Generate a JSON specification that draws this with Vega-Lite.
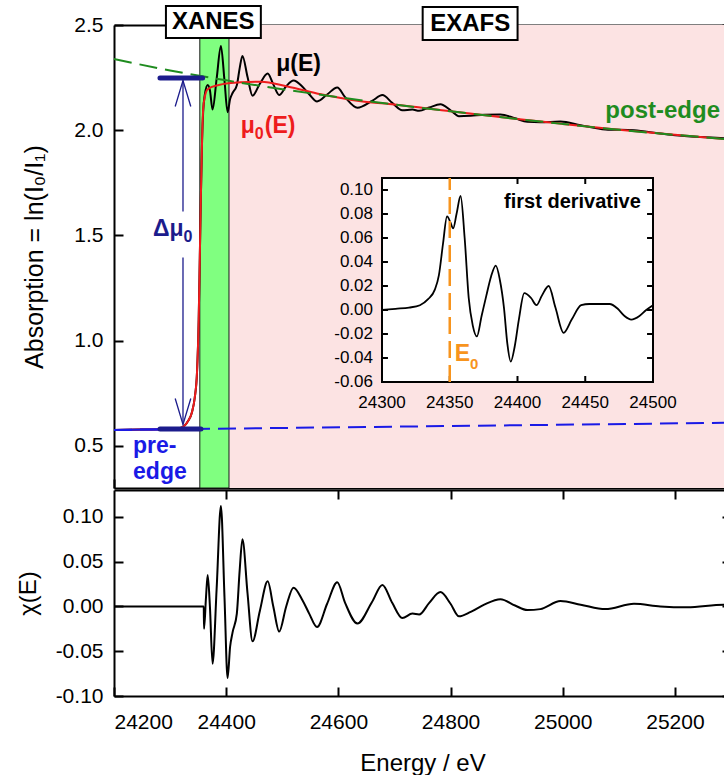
{
 "$schema": "https://vega.github.io/schema/vega-lite/v6.json",
 "padding": {"left": 16, "top": 5, "right": 0, "bottom": 0},
 "background": "white",
 "config": {
  "font": "Liberation Sans",
  "view": {"stroke": null},
  "locale": {"number": {"decimal": ".", "thousands": ",", "grouping": [3], "currency": ["$", ""], "minus": "-"}},
  "axis": {"grid": false, "domainColor": "black", "domainWidth": 2, "tickColor": "black", "tickWidth": 2, "tickSize": -9, "labelFont": "Liberation Sans", "labelFontSize": 21, "labelColor": "black", "titleFont": "Liberation Sans", "titleFontSize": 24, "titleFontWeight": "normal", "titleColor": "black", "zindex": 1, "labelPadding": 20}
 },
 "datasets": {
  "mu": [{"E":24200,"v":0.576},{"E":24250,"v":0.578},{"E":24300,"v":0.580},{"E":24320,"v":0.587},{"E":24332,"v":0.618},{"E":24339,"v":0.66},{"E":24344,"v":0.73},{"E":24348,"v":0.85},{"E":24351,"v":1.1},{"E":24353,"v":1.4},{"E":24355,"v":1.7},{"E":24357,"v":1.95},{"E":24359,"v":2.09},{"E":24362,"v":2.17},{"E":24367,"v":2.215},{"E":24371,"v":2.19},{"E":24375.7,"v":2.098},{"E":24383,"v":2.245},{"E":24390.6,"v":2.4},{"E":24397,"v":2.235},{"E":24402.5,"v":2.086},{"E":24407,"v":2.148},{"E":24411.4,"v":2.177},{"E":24419,"v":2.214},{"E":24424,"v":2.294},{"E":24429,"v":2.353},{"E":24438,"v":2.254},{"E":24447,"v":2.164},{"E":24460,"v":2.221},{"E":24474,"v":2.269},{"E":24484,"v":2.218},{"E":24494.5,"v":2.167},{"E":24507,"v":2.209},{"E":24520,"v":2.236},{"E":24536,"v":2.207},{"E":24548,"v":2.171},{"E":24562,"v":2.137},{"E":24580,"v":2.17},{"E":24598,"v":2.203},{"E":24612,"v":2.157},{"E":24634,"v":2.107},{"E":24660,"v":2.139},{"E":24678.5,"v":2.167},{"E":24696,"v":2.13},{"E":24714,"v":2.095},{"E":24732,"v":2.098},{"E":24744,"v":2.092},{"E":24762,"v":2.108},{"E":24782,"v":2.123},{"E":24800,"v":2.095},{"E":24815,"v":2.067},{"E":24836,"v":2.069},{"E":24860,"v":2.074},{"E":24889,"v":2.075},{"E":24915,"v":2.057},{"E":24937,"v":2.04},{"E":24960,"v":2.038},{"E":24996,"v":2.041},{"E":25032,"v":2.024},{"E":25076,"v":2.004},{"E":25127,"v":2.0},{"E":25174,"v":1.984},{"E":25222,"v":1.971},{"E":25287,"v":1.962},{"E":25300,"v":1.959}],
  "mu0": [{"E":24200,"v":0.576},{"E":24250,"v":0.578},{"E":24300,"v":0.580},{"E":24320,"v":0.587},{"E":24332,"v":0.618},{"E":24339,"v":0.66},{"E":24344,"v":0.73},{"E":24348,"v":0.85},{"E":24351,"v":1.1},{"E":24353,"v":1.4},{"E":24355,"v":1.7},{"E":24357,"v":1.95},{"E":24359,"v":2.1},{"E":24362,"v":2.16},{"E":24367,"v":2.195},{"E":24385,"v":2.214},{"E":24426,"v":2.228},{"E":24462,"v":2.23},{"E":24509,"v":2.208},{"E":24569,"v":2.171},{"E":24640,"v":2.138},{"E":24700,"v":2.122},{"E":24800,"v":2.09},{"E":24900,"v":2.059},{"E":25000,"v":2.03},{"E":25100,"v":2.002},{"E":25200,"v":1.978},{"E":25300,"v":1.956}],
  "post": [{"E":24200,"v":2.338},{"E":24300,"v":2.284},{"E":24400,"v":2.237},{"E":24500,"v":2.195},{"E":24600,"v":2.157},{"E":24700,"v":2.122},{"E":24800,"v":2.09},{"E":24900,"v":2.059},{"E":25000,"v":2.03},{"E":25100,"v":2.002},{"E":25200,"v":1.978},{"E":25300,"v":1.956}],
  "pre": [{"E":24200,"v":0.576},{"E":25300,"v":0.610}],
  "preFit": [{"E":24200,"v":0.576},{"E":24353,"v":0.581}],
  "chi": [{"E":24200,"v":0},{"E":24300,"v":0},{"E":24360,"v":0},{"E":24360.5,"v":-0.025},{"E":24364,"v":0.01},{"E":24367,"v":0.035},{"E":24371,"v":0.0},{"E":24375.7,"v":-0.064},{"E":24383,"v":0.02},{"E":24390.6,"v":0.112},{"E":24397,"v":0.01},{"E":24402.5,"v":-0.08},{"E":24407,"v":-0.045},{"E":24411.4,"v":-0.029},{"E":24419,"v":-0.008},{"E":24424,"v":0.04},{"E":24429,"v":0.075},{"E":24438,"v":0.015},{"E":24447,"v":-0.039},{"E":24460,"v":-0.005},{"E":24474,"v":0.028},{"E":24484,"v":0.0},{"E":24494.5,"v":-0.028},{"E":24507,"v":0.0},{"E":24520,"v":0.021},{"E":24536,"v":0.007},{"E":24548,"v":-0.008},{"E":24562,"v":-0.023},{"E":24580,"v":0.003},{"E":24598,"v":0.027},{"E":24612,"v":0.004},{"E":24634,"v":-0.019},{"E":24660,"v":0.005},{"E":24678.5,"v":0.024},{"E":24696,"v":0.004},{"E":24714,"v":-0.013},{"E":24732,"v":-0.008},{"E":24744,"v":-0.009},{"E":24762,"v":0.004},{"E":24782,"v":0.016},{"E":24800,"v":0.003},{"E":24815,"v":-0.011},{"E":24836,"v":-0.006},{"E":24860,"v":0.002},{"E":24889,"v":0.008},{"E":24915,"v":0.001},{"E":24937,"v":-0.004},{"E":24960,"v":-0.003},{"E":24996,"v":0.006},{"E":25032,"v":0.002},{"E":25076,"v":-0.003},{"E":25127,"v":0.003},{"E":25174,"v":0.0},{"E":25222,"v":-0.001},{"E":25287,"v":0.002},{"E":25300,"v":0.002}],
  "deriv": [{"E":24300,"v":0.0},{"E":24310,"v":0.001},{"E":24320,"v":0.002},{"E":24328,"v":0.004},{"E":24334,"v":0.009},{"E":24339,"v":0.017},{"E":24342,"v":0.029},{"E":24345,"v":0.055},{"E":24348,"v":0.078},{"E":24350.5,"v":0.073},{"E":24352.5,"v":0.068},{"E":24355,"v":0.08},{"E":24358,"v":0.095},{"E":24361,"v":0.06},{"E":24364,"v":0.01},{"E":24367,"v":-0.013},{"E":24370,"v":-0.022},{"E":24373.5,"v":-0.005},{"E":24377,"v":0.012},{"E":24380.5,"v":0.028},{"E":24384,"v":0.037},{"E":24387,"v":0.025},{"E":24390,"v":0.002},{"E":24392.5,"v":-0.028},{"E":24395,"v":-0.043},{"E":24398,"v":-0.03},{"E":24401,"v":-0.008},{"E":24405,"v":0.014},{"E":24410,"v":0.01},{"E":24414,"v":0.004},{"E":24418,"v":0.012},{"E":24423,"v":0.02},{"E":24428,"v":0.002},{"E":24434,"v":-0.019},{"E":24440,"v":-0.008},{"E":24447,"v":0.004},{"E":24453,"v":0.005},{"E":24468,"v":0.005},{"E":24474,"v":0.001},{"E":24479,"v":-0.005},{"E":24484,"v":-0.008},{"E":24490,"v":-0.005},{"E":24495,"v":0.0},{"E":24500,"v":0.004}],
  "insetX": [{"E":24300},{"E":24350},{"E":24400},{"E":24450},{"E":24500}],
  "insetXtop": [{"E":24400},{"E":24450}],
  "insetY": [{"v":-0.06},{"v":-0.04},{"v":-0.02},{"v":0.0},{"v":0.02},{"v":0.04},{"v":0.06},{"v":0.08},{"v":0.10}],
  "insetYticks": [{"v":-0.04},{"v":-0.02},{"v":0.0},{"v":0.02},{"v":0.04},{"v":0.06},{"v":0.08},{"v":0.10}]
 },
 "spacing": 0,
 "vconcat": [
  {
   "width": 617, "height": 463,
   "layer": [
    {
     "layer": [
      {"data": {"values": [{"a": 24405, "b": 25300}]}, "mark": {"type": "rect", "fill": "#FCE3E3"},
       "encoding": {"x": {"field": "a", "type": "quantitative", "scale": {"domain": [24200, 25300], "nice": false, "zero": false}, "axis": null}, "x2": {"field": "b"}}},
      {"data": {"values": [{"a": 24353, "b": 24405}]}, "mark": {"type": "rect", "fill": "#80FF80", "stroke": "#1a1a1a", "strokeWidth": 1},
       "encoding": {"x": {"field": "a", "type": "quantitative", "axis": null}, "x2": {"field": "b"}}},
      {"data": {"name": "mu"}, "mark": {"type": "line", "color": "black", "strokeWidth": 2, "interpolate": "monotone"},
       "encoding": {
        "x": {"field": "E", "type": "quantitative", "scale": {"domain": [24200, 25300], "nice": false, "zero": false}, "axis": {"orient": "bottom", "labels": false, "title": null, "values": [24200, 24400, 24600, 24800, 25000, 25200]}},
        "y": {"field": "v", "type": "quantitative", "scale": {"domain": [0.3, 2.5], "nice": false, "zero": false}, "axis": {"orient": "left", "values": [0.5, 1.0, 1.5, 2.0, 2.5], "format": ".1f", "title": "Absorption = ln(I₀/I₁)", "titlePadding": 26, "titleFontSize": 25}}}},
      {"data": {"name": "mu0"}, "mark": {"type": "line", "color": "#EE1C1C", "strokeWidth": 2, "interpolate": "monotone"},
       "encoding": {
        "x": {"field": "E", "type": "quantitative", "axis": {"orient": "top", "labels": false, "title": null, "values": [24600, 25000, 25200]}},
        "y": {"field": "v", "type": "quantitative", "axis": {"orient": "right", "labels": false, "title": null, "values": [0.5, 1.0, 1.5, 2.0, 2.5]}}}},
      {"data": {"name": "post"}, "mark": {"type": "line", "color": "#1F8C1F", "strokeWidth": 2, "strokeDash": [18, 8], "interpolate": "monotone"},
       "encoding": {"x": {"field": "E", "type": "quantitative", "axis": null}, "y": {"field": "v", "type": "quantitative", "axis": null}}},
      {"data": {"name": "pre"}, "mark": {"type": "line", "color": "#1A1AE6", "strokeWidth": 2, "strokeDash": [18, 8]},
       "encoding": {"x": {"field": "E", "type": "quantitative", "axis": null}, "y": {"field": "v", "type": "quantitative", "axis": null}}},
      {"data": {"name": "preFit"}, "mark": {"type": "line", "color": "#1A1AE6", "strokeWidth": 2},
       "encoding": {"x": {"field": "E", "type": "quantitative", "axis": null}, "y": {"field": "v", "type": "quantitative", "axis": null}}},
      {"data": {"values": [{"a": 24282, "b": 24358, "v": 2.248}, {"a": 24282, "b": 24355, "v": 0.58}]}, "mark": {"type": "rule", "color": "#1C1C8C", "strokeWidth": 5, "strokeCap": "round"},
       "encoding": {"x": {"field": "a", "type": "quantitative", "axis": null}, "x2": {"field": "b"}, "y": {"field": "v", "type": "quantitative", "axis": null}}},
      {"data": {"values": [{"E": 24323, "v": 0.602, "v2": 1.395}, {"E": 24323, "v": 1.614, "v2": 2.236}]}, "mark": {"type": "rule", "color": "#1C1C8C", "strokeWidth": 1.3},
       "encoding": {"x": {"field": "E", "type": "quantitative", "axis": null}, "y": {"field": "v", "type": "quantitative", "axis": null}, "y2": {"field": "v2"}}},
      {"data": {"values": [{"E": 24323, "v": 2.236}]}, "mark": {"type": "point", "shape": "M-0.3,1L0,0L0.3,1", "size": 2704, "filled": false, "stroke": "#1C1C8C", "strokeWidth": 1.3, "opacity": 1},
       "encoding": {"x": {"field": "E", "type": "quantitative", "axis": null}, "y": {"field": "v", "type": "quantitative", "axis": null}}},
      {"data": {"values": [{"E": 24323, "v": 0.602}]}, "mark": {"type": "point", "shape": "M-0.3,-1L0,0L0.3,-1", "size": 2704, "filled": false, "stroke": "#1C1C8C", "strokeWidth": 1.3, "opacity": 1},
       "encoding": {"x": {"field": "E", "type": "quantitative", "axis": null}, "y": {"field": "v", "type": "quantitative", "axis": null}}},
      {"data": {"values": [{"E": 24324, "v": 1.53, "t": "Δμ"}]}, "mark": {"type": "text", "color": "#1C1C8C", "fontSize": 23, "fontWeight": "bold", "align": "right", "baseline": "middle"},
       "encoding": {"x": {"field": "E", "type": "quantitative", "axis": null}, "y": {"field": "v", "type": "quantitative", "axis": null}, "text": {"field": "t"}}},
      {"data": {"values": [{"E": 24324, "v": 1.53, "t": "0"}]}, "mark": {"type": "text", "color": "#1C1C8C", "fontSize": 16, "fontWeight": "bold", "align": "left", "baseline": "middle", "dy": 8},
       "encoding": {"x": {"field": "E", "type": "quantitative", "axis": null}, "y": {"field": "v", "type": "quantitative", "axis": null}, "text": {"field": "t"}}},
      {"data": {"values": [{"E": 24529, "v": 2.314, "t": "μ(E)"}]}, "mark": {"type": "text", "color": "black", "fontSize": 23, "fontWeight": "bold", "align": "center", "baseline": "middle"},
       "encoding": {"x": {"field": "E", "type": "quantitative", "axis": null}, "y": {"field": "v", "type": "quantitative", "axis": null}, "text": {"field": "t"}}},
      {"data": {"values": [{"E": 24451, "v": 2.02, "t": "μ"}]}, "mark": {"type": "text", "color": "#EE1C1C", "fontSize": 23, "fontWeight": "bold", "align": "right", "baseline": "middle"},
       "encoding": {"x": {"field": "E", "type": "quantitative", "axis": null}, "y": {"field": "v", "type": "quantitative", "axis": null}, "text": {"field": "t"}}},
      {"data": {"values": [{"E": 24451, "v": 2.02, "t": "0"}]}, "mark": {"type": "text", "color": "#EE1C1C", "fontSize": 16, "fontWeight": "bold", "align": "left", "baseline": "middle", "dy": 8},
       "encoding": {"x": {"field": "E", "type": "quantitative", "axis": null}, "y": {"field": "v", "type": "quantitative", "axis": null}, "text": {"field": "t"}}},
      {"data": {"values": [{"E": 24451, "v": 2.02, "t": "(E)"}]}, "mark": {"type": "text", "color": "#EE1C1C", "fontSize": 23, "fontWeight": "bold", "align": "left", "baseline": "middle", "dx": 10},
       "encoding": {"x": {"field": "E", "type": "quantitative", "axis": null}, "y": {"field": "v", "type": "quantitative", "axis": null}, "text": {"field": "t"}}},
      {"data": {"values": [{"E": 25076, "v": 2.09, "t": "post-edge"}]}, "mark": {"type": "text", "color": "#1F8C1F", "fontSize": 24, "fontWeight": "bold", "align": "left", "baseline": "middle"},
       "encoding": {"x": {"field": "E", "type": "quantitative", "axis": null}, "y": {"field": "v", "type": "quantitative", "axis": null}, "text": {"field": "t"}}},
      {"data": {"values": [{"E": 24234, "v": 0.5, "t": "pre-"}, {"E": 24234, "v": 0.376, "t": "edge"}]}, "mark": {"type": "text", "color": "#1A1AE6", "fontSize": 23, "fontWeight": "bold", "align": "left", "baseline": "middle"},
       "encoding": {"x": {"field": "E", "type": "quantitative", "axis": null}, "y": {"field": "v", "type": "quantitative", "axis": null}, "text": {"field": "t"}}},
      {"data": {"values": [{"a": 24292.6, "b": 24461.8, "v": 2.59, "v2": 2.438}, {"a": 24750.3, "b": 24919.5, "v": 2.586, "v2": 2.429}]}, "mark": {"type": "rect", "fill": "white", "stroke": "black", "strokeWidth": 2, "clip": false},
       "encoding": {"x": {"field": "a", "type": "quantitative", "axis": null}, "x2": {"field": "b"}, "y": {"field": "v", "type": "quantitative", "axis": null}, "y2": {"field": "v2"}}},
      {"data": {"values": [{"E": 24377, "v": 2.514, "t": "XANES"}, {"E": 24835, "v": 2.507, "t": "EXAFS"}]}, "mark": {"type": "text", "color": "black", "fontSize": 24, "fontWeight": "bold", "align": "center", "baseline": "middle", "clip": false},
       "encoding": {"x": {"field": "E", "type": "quantitative", "axis": null}, "y": {"field": "v", "type": "quantitative", "axis": null}, "text": {"field": "t"}}}
     ],
     "resolve": {"axis": {"x": "independent", "y": "independent"}}
    },
    {
     "layer": [
      {"data": {"values": [{"a": 24300, "b": 24500, "c": -0.06, "d": 0.11}]}, "mark": {"type": "rect", "fill": "white", "stroke": "black", "strokeWidth": 2},
       "encoding": {
        "x": {"field": "a", "type": "quantitative", "scale": {"domain": [24300, 24500], "range": [268, 539], "nice": false, "zero": false}, "axis": null},
        "x2": {"field": "b"},
        "y": {"field": "c", "type": "quantitative", "scale": {"domain": [-0.06, 0.11], "range": [357, 153], "nice": false, "zero": false}, "axis": null},
        "y2": {"field": "d"}}},
      {"data": {"name": "insetX"}, "mark": {"type": "rule", "color": "black", "strokeWidth": 2},
       "encoding": {"x": {"field": "E", "type": "quantitative", "axis": null}, "y": {"datum": -0.06, "type": "quantitative", "axis": null}, "y2": {"datum": -0.055}}},
      {"data": {"name": "insetXtop"}, "mark": {"type": "rule", "color": "black", "strokeWidth": 2},
       "encoding": {"x": {"field": "E", "type": "quantitative", "axis": null}, "y": {"datum": 0.11, "type": "quantitative", "axis": null}, "y2": {"datum": 0.105}}},
      {"data": {"name": "insetYticks"}, "mark": {"type": "rule", "color": "black", "strokeWidth": 2},
       "encoding": {"y": {"field": "v", "type": "quantitative", "axis": null}, "x": {"datum": 24300, "type": "quantitative", "axis": null}, "x2": {"datum": 24304.4}}},
      {"data": {"name": "insetYticks"}, "mark": {"type": "rule", "color": "black", "strokeWidth": 2},
       "encoding": {"y": {"field": "v", "type": "quantitative", "axis": null}, "x": {"datum": 24495.6, "type": "quantitative", "axis": null}, "x2": {"datum": 24500}}},
      {"data": {"name": "insetX"}, "mark": {"type": "text", "color": "black", "fontSize": 17, "align": "center", "baseline": "top", "dy": 13},
       "encoding": {"x": {"field": "E", "type": "quantitative", "axis": null}, "y": {"datum": -0.06, "type": "quantitative", "axis": null}, "text": {"field": "E", "type": "quantitative", "format": "d"}}},
      {"data": {"name": "insetY"}, "mark": {"type": "text", "color": "black", "fontSize": 17, "align": "right", "baseline": "middle", "dx": -9},
       "encoding": {"y": {"field": "v", "type": "quantitative", "axis": null}, "x": {"datum": 24300, "type": "quantitative", "axis": null}, "text": {"field": "v", "type": "quantitative", "format": ".2f"}}},
      {"data": {"name": "deriv"}, "mark": {"type": "line", "color": "black", "strokeWidth": 1.8, "interpolate": "monotone"},
       "encoding": {"x": {"field": "E", "type": "quantitative", "axis": null}, "y": {"field": "v", "type": "quantitative", "axis": null}}},
      {"data": {"values": [{"E": 24350, "v": -0.06, "v2": 0.11}]}, "mark": {"type": "rule", "color": "#F7941D", "strokeWidth": 2.5, "strokeDash": [17, 7]},
       "encoding": {"x": {"field": "E", "type": "quantitative", "axis": null}, "y": {"field": "v", "type": "quantitative", "axis": null}, "y2": {"field": "v2"}}},
      {"data": {"values": [{"E": 24491, "v": 0.09, "t": "first derivative"}]}, "mark": {"type": "text", "color": "black", "fontSize": 20, "fontWeight": "bold", "align": "right", "baseline": "middle"},
       "encoding": {"x": {"field": "E", "type": "quantitative", "axis": null}, "y": {"field": "v", "type": "quantitative", "axis": null}, "text": {"field": "t"}}},
      {"data": {"values": [{"E": 24365, "v": -0.037, "t": "E"}]}, "mark": {"type": "text", "color": "#F7941D", "fontSize": 23, "fontWeight": "bold", "align": "right", "baseline": "middle"},
       "encoding": {"x": {"field": "E", "type": "quantitative", "axis": null}, "y": {"field": "v", "type": "quantitative", "axis": null}, "text": {"field": "t"}}},
      {"data": {"values": [{"E": 24365, "v": -0.037, "t": "0"}]}, "mark": {"type": "text", "color": "#F7941D", "fontSize": 15, "fontWeight": "bold", "align": "left", "baseline": "middle", "dy": 10},
       "encoding": {"x": {"field": "E", "type": "quantitative", "axis": null}, "y": {"field": "v", "type": "quantitative", "axis": null}, "text": {"field": "t"}}}
     ]
    }
   ],
   "resolve": {"scale": {"x": "independent", "y": "independent"}, "axis": {"x": "independent", "y": "independent"}}
  },
  {
   "width": 617, "height": 206,
   "data": {"name": "chi"},
   "layer": [
    {"mark": {"type": "line", "color": "black", "strokeWidth": 2, "interpolate": "monotone"},
     "encoding": {
      "x": {"field": "E", "type": "quantitative", "scale": {"domain": [24200, 25300], "nice": false, "zero": false}, "axis": {"orient": "bottom", "values": [24200, 24400, 24600, 24800, 25000, 25200], "format": "d", "title": "Energy / eV", "labelPadding": 24, "titlePadding": 19}},
      "y": {"field": "v", "type": "quantitative", "scale": {"domain": [-0.1, 0.13], "nice": false, "zero": false}, "axis": {"orient": "left", "values": [-0.1, -0.05, 0.0, 0.05, 0.1], "format": ".2f", "title": "χ(E)", "titlePadding": 15}}}},
    {"mark": {"type": "line", "strokeOpacity": 0},
     "encoding": {
      "x": {"field": "E", "type": "quantitative", "axis": {"orient": "top", "labels": false, "title": null, "values": [24400, 24600, 24800, 25000, 25200]}},
      "y": {"field": "v", "type": "quantitative", "axis": {"orient": "right", "labels": false, "title": null, "values": [-0.1, -0.05, 0.0, 0.05, 0.1]}}}}
   ],
   "resolve": {"axis": {"x": "independent", "y": "independent"}}
  }
 ]
}
